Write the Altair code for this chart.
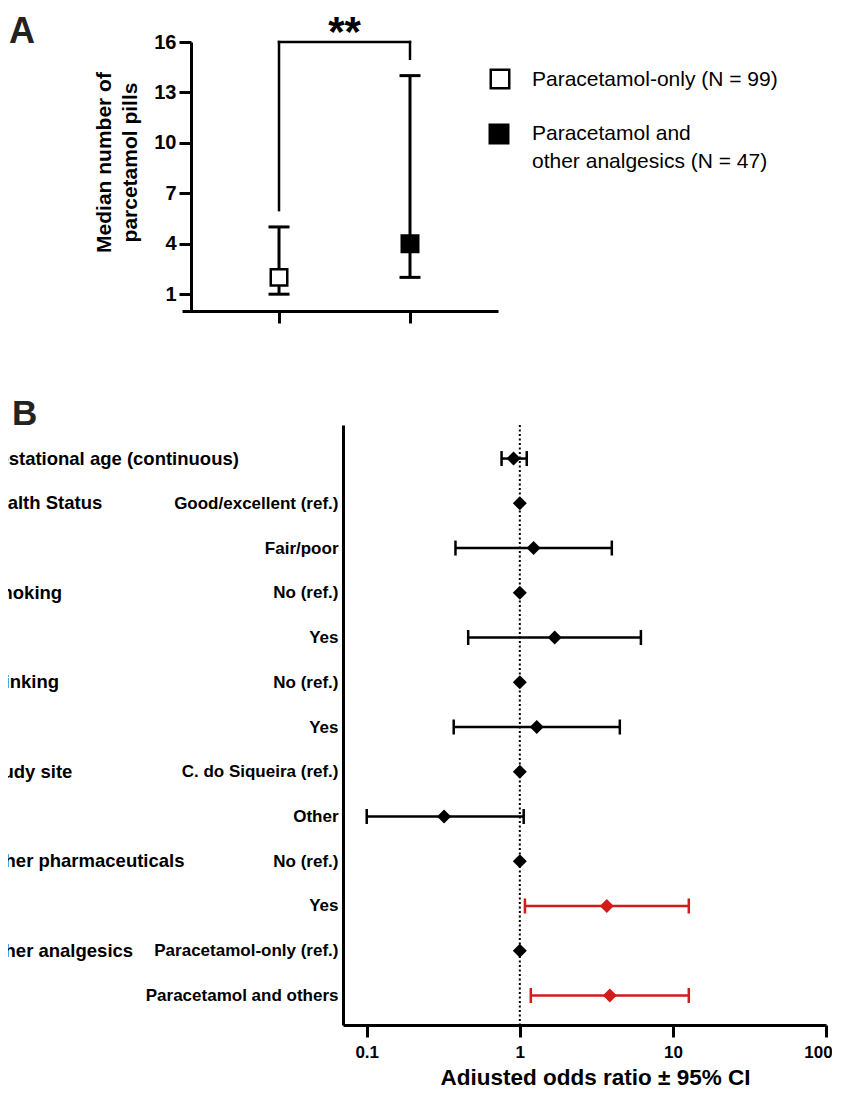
import json
import altair as alt
import pandas as pd

FONT = "Liberation Sans"

# ---------------- Panel A data ----------------
group_names = ["Paracetamol-only", "Paracetamol and other analgesics"]
legend_labels = ["Paracetamol-only (N = 99)", "Paracetamol and\nother analgesics (N = 47)"]
group_pos = [1, 2]
median_pills = [2, 4]
low_pills = [1, 2]
high_pills = [5, 14]
y_ticks_a = [1, 4, 7, 10, 13, 16]

# significance bracket segments
bracket_x = [1, 1, 2]
bracket_x2 = [2, 1, 2]
bracket_y = [16, 6, 15]
bracket_y2 = [16, 16, 16]
sig_label = "**"
panel_letters = ["A", "B"]

# ---------------- Panel B data ----------------
row_labels = ["", "Good/excellent (ref.)", "Fair/poor", "No (ref.)", "Yes", "No (ref.)", "Yes",
              "C. do Siqueira (ref.)", "Other", "No (ref.)", "Yes",
              "Paracetamol-only (ref.)", "Paracetamol and others"]
odds_ratio = [0.91, 1, 1.23, 1, 1.69, 1, 1.29, 1, 0.32, 1, 3.70, 1, 3.87]
ci_low = [0.76, None, 0.38, None, 0.46, None, 0.37, None, 0.10, None, 1.08, None, 1.18]
ci_high = [1.11, None, 3.99, None, 6.18, None, 4.50, None, 1.06, None, 12.7, None, 12.7]
group_labels = ["Gestational age (continuous)", "Health Status", "Smoking", "Drinking",
                "Study site", "Other pharmaceuticals", "Other analgesics"]
group_rows = [0, 1, 3, 5, 7, 9, 11]
x_ticks_b = [0.1, 1, 10, 100]
reference_or = [1]

# ---------------- tables ----------------
df_a = pd.DataFrame({"group": group_names, "pos": group_pos, "median": median_pills,
                     "low": low_pills, "high": high_pills, "legend": legend_labels})
df_br = pd.DataFrame({"x": bracket_x, "x2": bracket_x2, "y": bracket_y, "y2": bracket_y2})
df_sig = pd.DataFrame({"x": [sum(group_pos) / 2], "y": [max(bracket_y2)], "t": [sig_label]})
df_letter_a = pd.DataFrame({"t": [panel_letters[0]]})
df_letter_b = pd.DataFrame({"t": [panel_letters[1]]})

df_b = pd.DataFrame({"row": list(range(len(row_labels))), "or": odds_ratio,
                     "lo": ci_low, "hi": ci_high})
df_b["sig"] = ["significant" if (lo == lo and lo is not None and lo > 1) else "ns" for lo in df_b["lo"]]
df_ci = df_b.dropna(subset=["lo"])
df_groups = pd.DataFrame({"row": group_rows, "label": group_labels})
df_ref = pd.DataFrame({"ref": reference_or})

# ---------------- Panel A ----------------
W_A, H_A = 307, 269
xa = alt.Scale(domain=[0.2595, 2.6718], range=[-9, 307], nice=False, zero=False)
ya = alt.Scale(domain=[0, 16], nice=False, zero=False)
x_axis_a = alt.Axis(values=group_pos, labels=False, tickSize=12, tickWidth=3, domainWidth=3,
                    title=None, grid=False, labelFlush=False)
y_axis_a = alt.Axis(values=y_ticks_a, tickSize=12, tickWidth=3, domainWidth=3,
                    labelFontSize=20, labelFontWeight="bold", labelPadding=3, labelFont=FONT,
                    title=["Median number of", "parcetamol pills"], titleFontSize=21,
                    titleFontWeight="bold", titleFont=FONT, titleLineHeight=26, titlePadding=13,
                    titleY=120, grid=False)

XA = alt.X("pos:Q", scale=xa, axis=x_axis_a)

bars_a = alt.Chart(df_a).mark_rule(strokeWidth=3, color="black").encode(
    x=XA, y=alt.Y("low:Q", scale=ya, axis=y_axis_a), y2="high:Q")
caps_a = alt.Chart(df_a).transform_fold(["low", "high"], as_=["k", "v"]).mark_tick(
    orient="horizontal", size=21, thickness=3, color="black", opacity=1).encode(
    x=XA, y=alt.Y("v:Q", scale=ya, axis=y_axis_a))
squares_a = alt.Chart(df_a).mark_square(size=272, stroke="black", strokeWidth=2.5, opacity=1).encode(
    x=XA, y=alt.Y("median:Q", scale=ya, axis=y_axis_a),
    fill=alt.Fill("group:N", scale=alt.Scale(domain=group_names, range=["white", "black"]), legend=None))
bracket = alt.Chart(df_br).mark_rule(strokeWidth=2.5, color="black", strokeCap="square").encode(
    x=alt.X("x:Q", scale=xa, axis=x_axis_a), x2="x2:Q",
    y=alt.Y("y:Q", scale=ya, axis=y_axis_a), y2="y2:Q")
sig_text = alt.Chart(df_sig).mark_text(fontSize=42, fontWeight="bold", font=FONT,
                                       baseline="alphabetic", dy=4, color="black").encode(
    x=alt.X("x:Q", scale=xa, axis=x_axis_a), y=alt.Y("y:Q", scale=ya, axis=y_axis_a), text="t:N")
letter_a = alt.Chart(df_letter_a).mark_text(fontSize=36, fontWeight="bold", font=FONT, align="left",
                                            baseline="alphabetic", color="#222222").encode(
    x=alt.value(-182), y=alt.value(1), text="t:N")

leg_open = alt.Chart(df_a).transform_filter(alt.datum.group == group_names[0]).mark_square(
    size=342, stroke="black", strokeWidth=2.5, fill="white", opacity=1).encode(
    x=alt.value(309), y=alt.value(37))
leg_fill = alt.Chart(df_a).transform_filter(alt.datum.group == group_names[1]).mark_square(
    size=342, stroke="black", strokeWidth=2.5, fill="black", opacity=1).encode(
    x=alt.value(308), y=alt.value(92))
leg_t1 = alt.Chart(df_a).transform_filter(alt.datum.group == group_names[0]).mark_text(
    fontSize=21, font=FONT, align="left", baseline="alphabetic", color="black").encode(
    x=alt.value(341), y=alt.value(44), text="legend:N")
leg_t2 = alt.Chart(df_a).transform_filter(alt.datum.group == group_names[1]).mark_text(
    fontSize=21, font=FONT, align="left", baseline="alphabetic", color="black",
    lineBreak="\n", lineHeight=28).encode(
    x=alt.value(341), y=alt.value(98), text="legend:N")

chart_a = alt.layer(bars_a, caps_a, squares_a, bracket, sig_text, letter_a,
                    leg_open, leg_fill, leg_t1, leg_t2).properties(width=W_A, height=H_A)

# ---------------- Panel B ----------------
W_B, H_B = 635, 600
xb = alt.Scale(type="log", domain=[0.07, 100], range=[152, 635], nice=False)
yb = alt.Scale(domain=[-0.75, 12.66], reverse=True, nice=False, zero=False)
label_expr = json.dumps(row_labels) + "[datum.value]"
x_axis_b = alt.Axis(values=x_ticks_b, format="~g", tickSize=12, tickWidth=3, domainWidth=3,
                    labelFontSize=17, labelFontWeight="bold", labelFont=FONT, labelPadding=7,
                    labelFlush=False,
                    labelOffset={"condition": {"test": "datum.value >= 100", "value": -8}, "value": 0},
                    title="Adjusted odds ratio ± 95% CI", titleFontSize=22.5,
                    titleFontWeight="bold", titleFont=FONT, titlePadding=6, titleX=404, grid=False)
y_axis_b = alt.Axis(values=list(range(1, len(row_labels))), labelExpr=label_expr, ticks=False,
                    domainWidth=3, offset=-152, labelFontSize=17, labelFontWeight="bold",
                    labelFont=FONT, labelPadding=5, labelLimit=0, title=None, grid=False)
color_b = alt.Color("sig:N", scale=alt.Scale(domain=["ns", "significant"], range=["black", "#d41b1b"]),
                    legend=None)

ref_line = alt.Chart(df_ref).mark_rule(strokeDash=[2, 2.5], strokeWidth=2, color="black").encode(
    x=alt.X("ref:Q", scale=xb, axis=x_axis_b))
ci_lines = alt.Chart(df_ci).mark_rule(strokeWidth=2.5).encode(
    x=alt.X("lo:Q", scale=xb, axis=x_axis_b), x2="hi:Q",
    y=alt.Y("row:Q", scale=yb, axis=y_axis_b), color=color_b)
ci_caps = alt.Chart(df_ci).transform_fold(["lo", "hi"], as_=["k", "v"]).mark_tick(
    orient="vertical", size=15, thickness=2.5, opacity=1).encode(
    x=alt.X("v:Q", scale=xb, axis=x_axis_b), y=alt.Y("row:Q", scale=yb, axis=y_axis_b), color=color_b)
points_b = alt.Chart(df_b).mark_point(shape="diamond", filled=True, size=196, opacity=1).encode(
    x=alt.X("or:Q", scale=xb, axis=x_axis_b), y=alt.Y("row:Q", scale=yb, axis=y_axis_b), color=color_b)
group_text = alt.Chart(df_groups).mark_text(align="left", baseline="middle", fontSize=18.5,
                                            fontWeight="bold", font=FONT, color="black").encode(
    x=alt.value(-207), y=alt.Y("row:Q", scale=yb, axis=y_axis_b), text="label:N")
letter_b = alt.Chart(df_letter_b).mark_text(fontSize=35, fontWeight="bold", font=FONT, align="left",
                                            baseline="alphabetic", color="#222222").encode(
    x=alt.value(-179), y=alt.value(0), text="t:N")

chart_b = alt.layer(ref_line, ci_lines, ci_caps, points_b, group_text, letter_b).properties(
    width=W_B, height=H_B)

chart = alt.vconcat(chart_a, chart_b, spacing=114, bounds="flush").properties(
    padding={"left": -24, "top": 4, "right": -1, "bottom": -4}
).configure_view(stroke=None).configure_axis(
    domainColor="black", tickColor="black", labelColor="black", titleColor="black")

chart.save("out.html", embed_options={"renderer": "svg", "actions": False})
